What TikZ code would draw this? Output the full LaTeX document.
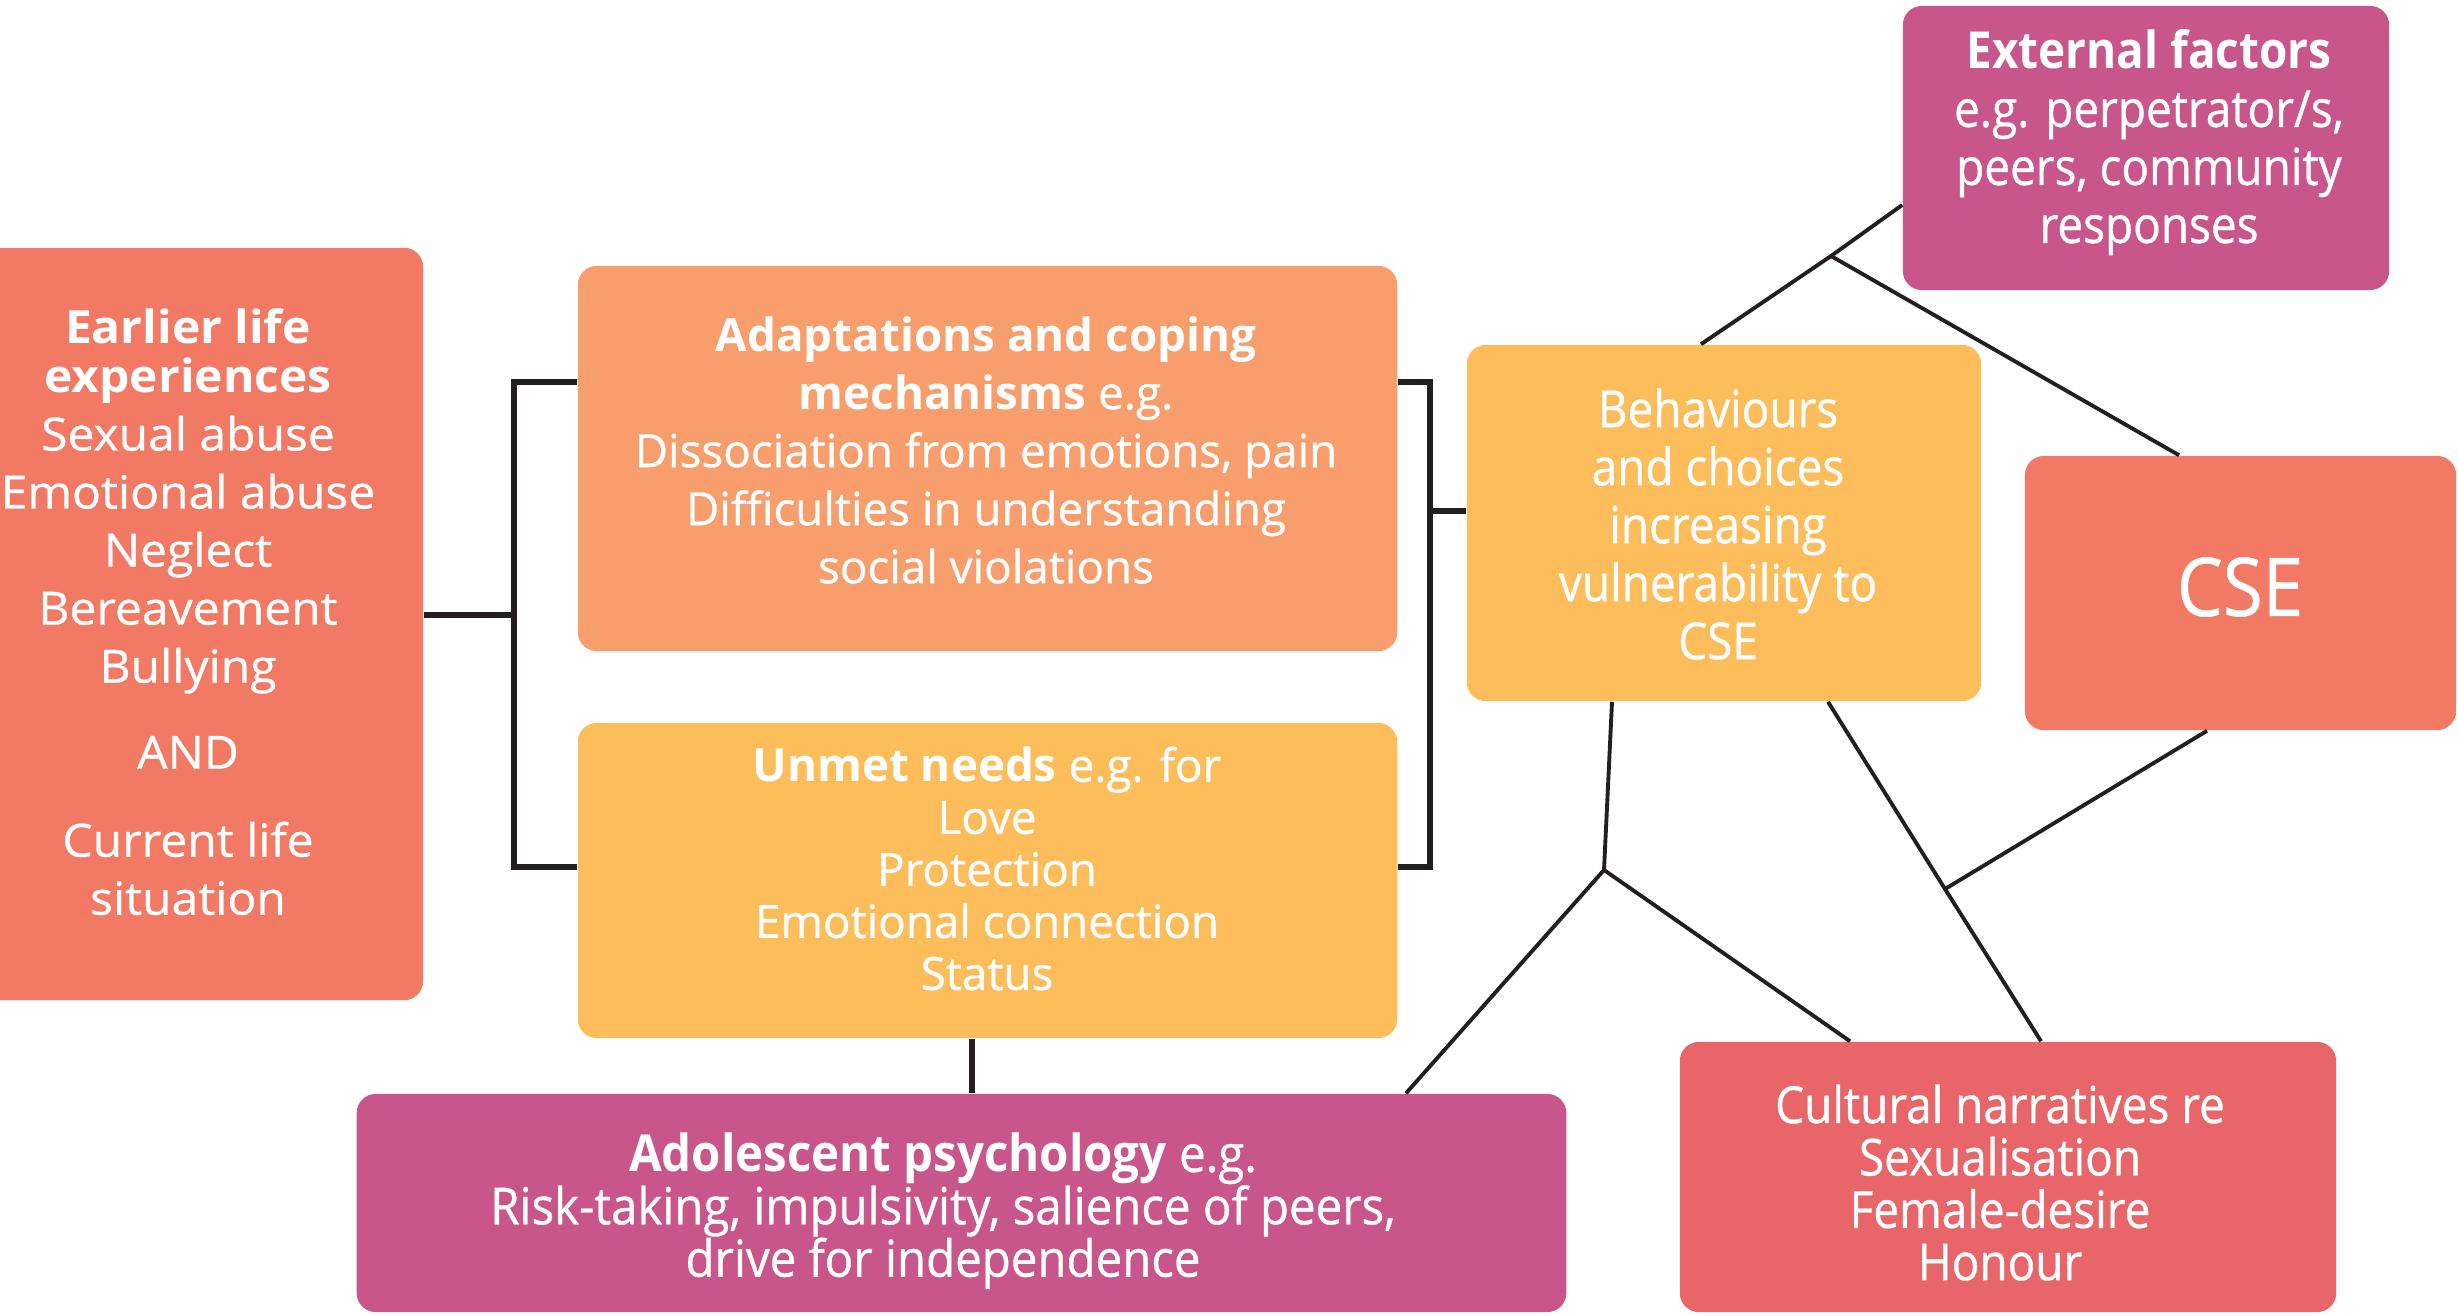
\documentclass[tikz,border=0pt]{standalone}
\usepackage{fontspec}
\setmainfont{Open Sans}[UprightFeatures={FakeBold=0.7}]
\newfontfamily\widef{Open Sans}[FakeStretch=1.05, UprightFeatures={FakeBold=0.7}]
\newfontfamily\cond{Open Sans}[FakeStretch=0.9, UprightFeatures={FakeBold=0.7}]
\newfontfamily\condb{Open Sans}[FakeStretch=0.93, UprightFeatures={FakeBold=0.7}]
\definecolor{csalmon}{HTML}{F27A65}
\definecolor{corange}{HTML}{F89D6C}
\definecolor{cyellow}{HTML}{FDBD5B}
\definecolor{cmagenta}{HTML}{C9568B}
\definecolor{cred}{HTML}{E86669}
\definecolor{cline}{HTML}{231F20}
\begin{document}
\begin{tikzpicture}[x=0.01cm,y=-0.01cm,
  box/.style={rounded corners=0.19cm, inner sep=0pt},
  label/.style={text=white, align=center, inner sep=0pt},
  bracket/.style={draw=cline, line width=1.7pt},
  thinline/.style={draw=cline, line width=1.1pt}]
\useasboundingbox (0,0) rectangle (2458,1315);
% boxes
\node[box, fill=csalmon, minimum width=4.68cm, minimum height=7.52cm] (early) at (189,624) {};
\node[box, fill=corange, minimum width=8.19cm, minimum height=3.85cm] (adapt) at (987.5,458.5) {};
\node[box, fill=cyellow, minimum width=8.19cm, minimum height=3.15cm] (unmet) at (987.5,880.5) {};
\node[box, fill=cyellow, minimum width=5.14cm, minimum height=3.56cm] (beh) at (1724,523) {};
\node[box, fill=cmagenta, minimum width=4.86cm, minimum height=2.84cm] (ext) at (2146,148) {};
\node[box, fill=csalmon, minimum width=4.31cm, minimum height=2.74cm] (cse) at (2240.5,593) {};
\node[box, fill=cmagenta, minimum width=12.09cm, minimum height=2.18cm] (adol) at (961.5,1203) {};
\node[box, fill=cred, minimum width=6.56cm, minimum height=2.70cm] (cult) at (2008,1177) {};
% texts
\node[label, font=\widef\fontsize{13}{16.5}\selectfont] (earlyt) at (188,612) {\textbf{Earlier life}\\[-2.7pt]\textbf{experiences}\\Sexual abuse\\Emotional abuse\\Neglect\\Bereavement\\Bullying\\[8pt]AND\\[8.5pt]Current life\\situation};
\node[label, font=\fontsize{13}{16.5}\selectfont] (adaptt) at (986,450) {\textbf{Adaptations and coping}\\\textbf{mechanisms} e.g.\\Dissociation from emotions, pain\\Difficulties in understanding\\social violations};
\node[label, font=\fontsize{13}{14.8}\selectfont] (unmett) at (987,868.5) {\textbf{Unmet needs} e.g. for\\Love\\Protection\\Emotional connection\\Status};
\node[label, font=\cond\fontsize{14.5}{16.5}\selectfont] (beht) at (1718,524) {Behaviours\\and choices\\increasing\\vulnerability to\\CSE};
\node[label, font=\cond\fontsize{14.5}{16.5}\selectfont] (extt) at (2149,142.5) {\textbf{External factors}\\e.g. perpetrator/s,\\peers, community\\responses};
\node[label, font=\cond\fontsize{23}{26}\selectfont] (cset) at (2240,587) {CSE};
\node[label, font=\condb\fontsize{14.5}{14.9}\selectfont] (adolt) at (943,1211) {\textbf{Adolescent psychology} e.g.\\Risk-taking, impulsivity, salience of peers,\\drive for independence};
\node[label, font=\cond\fontsize{14.5}{14.9}\selectfont] (cultt) at (2000,1182.5) {Cultural narratives re\\Sexualisation\\Female-desire\\Honour};
% bracket connectors
\coordinate (lt) at (514,382);
\coordinate (lm) at (514,615);
\coordinate (lb) at (514,867);
\coordinate (rt) at (1430,382);
\coordinate (rm) at (1430,511);
\coordinate (rb) at (1430,867);
\coordinate (vx) at (972,0);
\draw[bracket] (adapt.west |- lt) -- (lt) -- (lb) -- (unmet.west |- lb);
\draw[bracket] (early.east |- lm) -- (lm);
\draw[bracket] (adapt.east |- rt) -- (rt) -- (rb) -- (unmet.east |- rb);
\draw[bracket] (rm) -- (beh.west |- rm);
\draw[bracket] (unmet.south -| vx) -- (adol.north -| vx);
% thin connectors
\coordinate (j1) at (1831,256);
\coordinate (j2) at (1604,870);
\coordinate (j3) at (1945,889);
\coordinate (yext) at (0,205);
\coordinate (xbt) at (1701,0);
\coordinate (xcsetop) at (2179,0);
\coordinate (xbb1) at (1612,0);
\coordinate (xadol) at (1406,0);
\coordinate (xcult1) at (1850,0);
\coordinate (xbb2) at (1828,0);
\coordinate (xcult2) at (2041,0);
\coordinate (xcsebot) at (2207,0);
\draw[thinline] (ext.west |- yext) -- (j1) -- (beh.north -| xbt);
\draw[thinline] (j1) -- (cse.north -| xcsetop);
\draw[thinline] (beh.south -| xbb1) -- (j2) -- (adol.north -| xadol);
\draw[thinline] (j2) -- (cult.north -| xcult1);
\draw[thinline] (beh.south -| xbb2) -- (j3) -- (cult.north -| xcult2);
\draw[thinline] (cse.south -| xcsebot) -- (j3);
\end{tikzpicture}
\end{document}
